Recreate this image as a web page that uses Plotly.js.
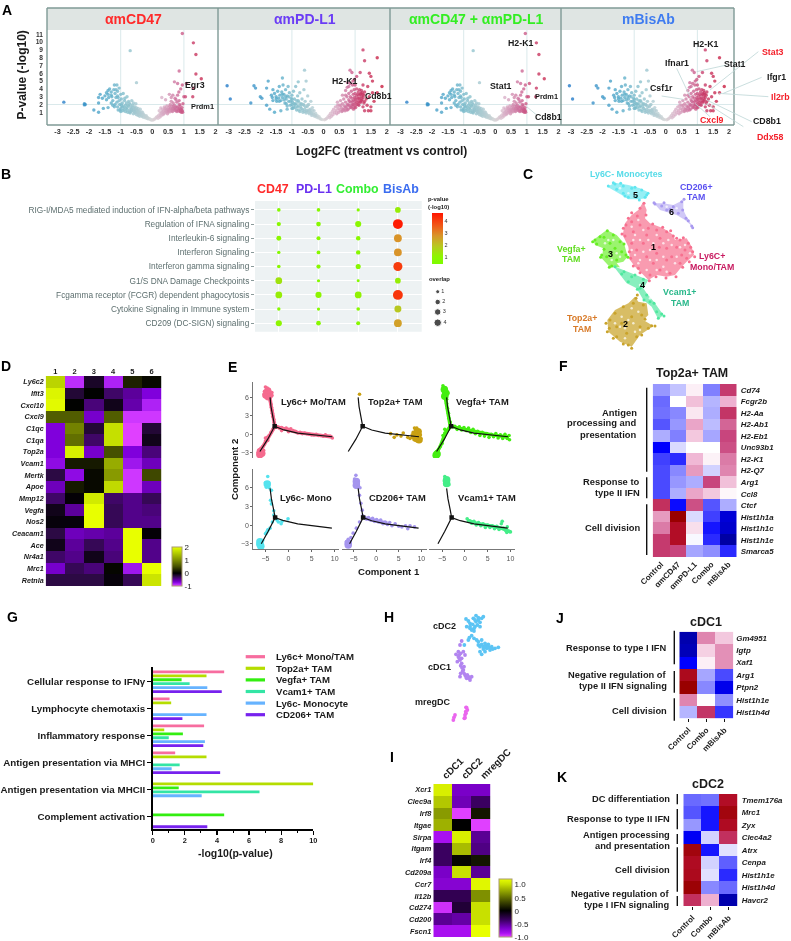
<!DOCTYPE html>
<html><head><meta charset="utf-8">
<script src="https://cdn.plot.ly/plotly-3.0.1.min.js"></script>
<style>html,body{margin:0;padding:0;background:#fff}#g{width:791px;height:941px;filter:blur(0.3px)}</style>
</head><body><div id="g"></div>
<script>
// ---------- DATA ----------
const volcanoA = [[-2.8,2.3],[-2.15,2.1],[-2.15,1.95],[-2.12,2.0],[-1.7,2.2],[-1.85,1.3],[-1.7,1.0],[-1.55,1.5],[-1.4,1.6],[-1.2,1.7],[-0.7,8.9],[-0.5,4.8],
[-1.7,2.9],[-1.65,3.3],[-1.58,2.8],[-1.5,3.1],[-1.45,3.5],[-1.4,3.3],[-1.38,2.9],[-1.35,4.0],[-1.3,3.6],[-1.28,3.0],[-1.25,2.5],[-1.2,4.5],[-1.12,4.5],[-1.22,3.9],[-1.18,3.4],[-1.15,2.9],[-1.12,2.3],[-1.1,3.7],[-1.08,2.9],[-1.05,4.1],[-1.05,2.5],[-1.03,2.0],[-1,3.3],[-1,1.5],[-1,1.1],[-0.98,2.7],[-0.95,2.2],[-0.95,1.7],[-0.92,3.4],[-0.9,1.4],[-0.88,2.5],[-0.85,1.9],[-0.85,1.1],[-0.82,2.2],[-0.8,3.0],[-0.8,1.6],[-0.78,1.0],[-0.75,2.4],[-0.75,1.8],[-0.72,1.3],[-0.7,2.0],[-0.7,0.9],[-0.68,1.6],[-0.65,2.5],[-0.65,1.2],[-0.62,1.9],[-0.6,1.4],[-0.6,0.8],[-0.58,1.1],[-0.55,1.7],[-0.55,0.9],[-0.52,2.1],[-0.5,1.3],[-0.5,0.7],[-0.48,1.0],[-0.45,1.5],[-0.45,0.6],[-0.42,1.2],[-0.4,0.9],[-0.4,0.5],[-0.38,1.4],[-0.35,0.7],[-0.35,1.05],[-0.32,0.45],[-0.3,0.8],[-0.28,0.35],[-0.25,0.6],[-0.22,0.3],[-0.2,0.45],[-0.17,0.22],[-0.15,0.35],[-0.12,0.15],[-0.1,0.22],[-0.07,0.1],[-0.04,0.05],[-0.02,0.02],[0.02,0.02],[0.05,0.07],
[-1.3,2.2],[-1.25,1.9],[-1.18,2.0],[-1.1,1.7],[-1.08,1.3],[-1.02,1.3],[-0.97,1.9],[-0.93,1.2],[-0.9,1.7],[-0.87,2.8],[-0.83,1.5],[-0.8,1.3],[-0.77,1.9],[-0.73,2.2],[-0.72,1.0],[-0.68,1.1],[-0.66,1.4],[-0.64,1.7],[-0.6,2.2],[-0.58,1.55],[-0.57,1.2],[-0.54,1.4],[-0.53,1.0],[-0.5,1.55],[-0.47,1.2],[-0.46,0.85],[-0.43,1.0],[-0.41,0.7],[-0.37,0.85],[-0.33,0.6],[-0.31,1.0],[-0.27,0.7],[-0.24,0.45],[-0.19,0.55],[-0.15,0.2],[-1.45,2.6],[-1.3,3.2],[-1.15,3.9],[-1.4,3.8],[-1.1,3.1],
[0.08,0.15],[0.12,0.3],[0.15,0.45],[0.18,0.22],[0.2,0.6],[0.22,1.2],[0.24,0.4],[0.25,0.85],[0.27,1.55],[0.28,0.55],[0.3,1.0],[0.3,2.9],[0.32,1.4],[0.34,0.7],[0.36,1.2],[0.38,1.7],[0.4,0.95],[0.42,1.45],[0.42,2.6],[0.45,1.1],[0.46,1.8],[0.48,0.8],[0.5,1.3],[0.52,1.6],[0.54,3.3],[0.55,1.05],[0.57,2.0],[0.6,1.4],[0.6,2.9],[0.62,1.75],[0.64,1.1],[0.66,2.2],[0.68,1.5],[0.7,1.9],[0.7,4.9],[0.72,2.8],[0.74,1.2],[0.76,1.7],[0.78,2.3],[0.8,4.7],[0.82,1.4],[0.84,3.6],[0.85,6.3],[0.86,2.0],[0.88,1.1],[0.9,1.4],[0.9,4.0],[0.92,1.0],[0.94,1.6],[0.95,4.5],[0.95,11.1],[0.97,2.1],[1,3.0],[1.05,3.0],[1.08,4.7],[1.28,3.0],[1.3,4.1],[1.3,9.9],[1.38,8.4],[1.38,5.9],[1.55,5.3],
[0.3,0.8],[0.33,1.1],[0.37,0.85],[0.4,1.5],[0.43,1.2],[0.47,1.4],[0.5,1.05],[0.53,1.3],[0.55,1.8],[0.58,1.5],[0.62,1.2],[0.65,1.5],[0.67,1.8],[0.7,1.3],[0.72,1.6],[0.75,1.4],[0.78,1.1],[0.8,1.7],[0.83,1.2],[0.86,1.5],[0.88,1.8],[0.9,1.15],[0.92,1.3],[0.6,2.4],[0.75,2.6],[0.85,2.5],[0.95,1.2],[0.96,1.0],[0.65,3.2],[0.8,3.2]];
const volcanoB = [[-3.05,4.4],[-2.95,2.7],[-2.3,2.2],[-2.2,4.4],[-2.15,4.1],[-2.0,3.0],[-1.95,2.8],[-1.8,4.1],[-1.75,5.0],[-1.8,1.9],[-1.7,1.4],[-1.65,3.2],[-1.6,3.9],[-1.55,1.0],[-1.6,2.5],[-1.35,1.2],[-1.15,1.4],[-0.6,6.4],[-0.55,5.0],[-0.8,4.9],
[-1.62,2.9],[-1.55,3.4],[-1.5,3.0],[-1.48,2.4],[-1.45,3.7],[-1.42,2.8],[-1.4,4.3],[-1.38,3.2],[-1.35,2.5],[-1.32,3.6],[-1.3,5.4],[-1.3,2.9],[-1.28,4.5],[-1.25,3.3],[-1.22,2.2],[-1.2,3.9],[-1.18,2.7],[-1.15,3.1],[-1.12,4.3],[-1.1,2.4],[-1.08,3.5],[-1.05,1.9],[-1.02,2.8],[-1,3.2],[-1,1.5],[-0.98,2.3],[-0.95,3.7],[-0.95,1.7],[-0.92,2.7],[-0.9,2.0],[-0.88,4.3],[-0.85,2.5],[-0.85,1.3],[-0.82,3.1],[-0.8,1.8],[-0.78,2.3],[-0.75,1.1],[-0.75,3.5],[-0.72,2.0],[-0.7,1.5],[-0.68,2.7],[-0.65,1.0],[-0.62,1.9],[-0.62,3.9],[-0.6,1.4],[-0.58,2.4],[-0.55,0.9],[-0.52,1.7],[-0.5,3.1],[-0.5,1.2],[-0.47,2.0],[-0.45,0.8],[-0.42,1.4],[-0.4,2.4],[-0.4,1.0],[-0.37,0.6],[-0.35,1.6],[-0.33,0.85],[-0.3,1.2],[-0.28,0.5],[-0.25,0.85],[-0.22,0.4],[-0.2,0.6],[-0.17,0.3],[-0.14,0.42],[-0.11,0.2],[-0.08,0.12],[-0.04,0.06],[0.03,0.04],[0.07,0.12],
[-1.4,2.4],[-1.25,2.6],[-1.18,2.1],[-1.15,1.8],[-1.05,2.4],[-1.0,2.0],[-0.97,1.5],[-0.93,2.1],[-0.9,1.6],[-0.87,2.1],[-0.83,1.7],[-0.8,2.5],[-0.78,1.3],[-0.73,1.7],[-0.7,2.1],[-0.67,1.3],[-0.64,2.0],[-0.6,1.1],[-0.57,1.7],[-0.54,1.2],[-0.5,1.9],[-0.48,1.0],[-0.45,1.3],[-0.43,1.1],[-0.38,0.8],[-0.35,1.25],[-0.3,0.7],[-0.26,0.6],[-1.5,2.7],[-1.3,3.3],[-1.2,3.0],[-1.1,3.0],[-1.0,2.6],
[0.1,0.22],[0.14,0.4],[0.18,0.6],[0.2,0.3],[0.22,0.85],[0.25,0.5],[0.28,1.1],[0.3,0.7],[0.32,1.4],[0.35,0.95],[0.38,1.7],[0.4,1.2],[0.42,0.8],[0.44,2.3],[0.46,1.5],[0.48,1.0],[0.5,1.9],[0.52,1.3],[0.54,2.5],[0.56,1.6],[0.58,1.1],[0.6,2.1],[0.6,3.2],[0.62,1.4],[0.64,2.7],[0.66,1.8],[0.68,1.2],[0.7,2.3],[0.7,3.8],[0.72,1.6],[0.74,3.0],[0.76,2.0],[0.76,4.8],[0.78,1.4],[0.8,2.6],[0.8,3.4],[0.8,4.3],[0.82,1.9],[0.84,6.4],[0.85,3.0],[0.86,2.3],[0.88,1.6],[0.88,3.7],[0.9,2.8],[0.9,6.1],[0.92,2.0],[0.92,4.5],[0.94,3.3],[0.95,2.5],[0.95,1.4],[0.97,3.9],[0.98,2.9],[0.98,5.2],[1,2.2],[1,3.4],[1,1.8],[1.02,2.6],[1.04,3.1],[1.05,4.0],[1.05,5.6],[1.06,2.0],[1.08,2.8],[1.1,3.6],[1.1,2.4],[1.12,3.2],[1.12,1.9],[1.14,3.9],[1.15,2.7],[1.16,6.1],[1.18,3.4],[1.18,2.3],[1.2,3.0],[1.2,3.8],[1.22,2.6],[1.24,3.3],[1.25,9.0],[1.25,1.7],[1.28,2.2],[1.3,3.6],[1.3,7.6],[1.3,1.2],[1.35,2.7],[1.38,1.9],[1.4,4.3],[1.42,1.2],[1.45,3.0],[1.45,6.0],[1.5,1.7],[1.5,5.6],[1.5,1.2],[1.55,3.5],[1.55,5.0],[1.6,2.4],[1.7,8.0],[1.7,3.5],[1.85,4.3],
[0.65,1.4],[0.7,1.7],[0.75,1.3],[0.78,1.9],[0.82,2.4],[0.85,1.6],[0.9,1.8],[0.92,2.4],[0.95,2.0],[0.97,1.6],[1,2.7],[1.02,1.6],[1.05,2.3],[1.08,3.3],[1.1,2.0],[1.12,2.8],[1.15,2.3],[1.17,3.3],[1.2,2.5],[1.22,3.5],[1.25,2.9],[1.28,3.2],[1.3,2.4],[0.85,4.7],[0.93,5.0],[0.75,4.2],[0.7,3.2],[1.0,4.5],[1.25,4.5],[0.55,1.9],[0.6,1.2],[0.45,1.9]];
const volcanoPanels = ['αmCD47','αmPD-L1','αmCD47 + αmPD-L1','mBisAb'];
const volcanoTicksX = [-3,-2.5,-2,-1.5,-1,-0.5,0,0.5,1,1.5,2];
const volcanoTicksY = [1,2,3,4,5,6,7,8,9,10,11];

const pathways = ['RIG-I/MDA5 mediated induction of IFN-alpha/beta pathways','Regulation of IFNA signaling','Interleukin-6 signaling','Interferon Signaling','Interferon gamma signaling','G1/S DNA Damage Checkpoints','Fcgamma receptor (FCGR) dependent phagocytosis','Cytokine Signaling in Immune system','CD209 (DC-SIGN) signaling'];
const bubbleGroups = ['CD47','PD-L1','Combo','BisAb'];
const bubbleOverlap = [[1,1,0.8,2],[1.3,1.5,2.2,4],[1.6,1.2,1.4,3],[0.9,1.1,1.4,3],[1,1.3,1.7,3.6],[2.5,0.8,0.7,2],[2.5,2.2,2.5,4],[0.9,0.8,1,2.6],[2.2,1.5,1.2,3]];
const bubblePval = [[0.7,0.7,0.7,1.2],[0.8,0.8,0.9,4.6],[0.9,0.8,0.8,2.8],[0.7,0.8,0.8,2.8],[0.8,0.8,0.8,4.1],[1.4,0.7,0.7,1.2],[1.2,1.0,1.1,4.2],[0.7,0.7,0.8,1.9],[1.0,0.8,0.8,2.6]];

// Panel C: embedding outlines and scattered cells, read in embedding units
const umapNames = ['Ly6C+ Mono/TAM','Top2a+ TAM','Vegfa+ TAM','Vcam1+ TAM','Ly6C- Monocytes','CD206+ TAM'];
const umapOutline = [
 [[430,125],[440,150],[435,175],[450,190],[490,205],[520,225],[525,240],[560,235],[575,260],[582,285],[560,305],[545,320],[525,345],[500,350],[470,345],[445,360],[425,340],[405,320],[390,300],[385,260],[368,225],[375,190],[395,165],[415,150]],
 [[405,410],[415,425],[440,430],[445,465],[430,480],[460,498],[420,525],[395,560],[360,545],[325,515],[322,480],[345,450],[385,430]],
 [[280,240],[320,210],[350,225],[372,250],[383,290],[370,305],[350,310],[360,322],[330,322],[305,295],[310,265],[285,255]],
 [[340,318],[370,330],[400,340],[445,360],[430,385],[440,400],[465,430],[490,465],[475,478],[455,440],[430,420],[410,385],[380,370],[362,345]],
 [[322,80],[345,68],[385,75],[420,85],[442,95],[440,115],[415,118],[385,118],[365,105],[340,90]],
 [[462,130],[490,130],[520,135],[550,120],[550,150],[560,170],[578,200],[555,180],[530,165],[500,155],[480,150]]];
const umapCells = [
 [[432,130],[395,158],[412,168],[378,195],[395,185],[420,195],[445,205],[470,210],[500,215],[520,228],[375,228],[400,215],[440,225],[480,235],[540,240],[565,250],[578,275],[560,295],[530,262],[500,265],[470,280],[440,290],[410,270],[395,250],[392,295],[415,325],[450,345],[480,330],[510,340],[540,310],[500,300],[460,310],[430,250],[555,270],[545,285],[515,290],[478,262],[370,205],[385,175],[420,145],[438,165],[458,192],[488,202],[512,212],[530,235],[550,233],[572,262],[584,290],[568,305],[548,322],[528,350],[498,354],[468,350],[448,362],[420,338],[400,318],[388,275],[366,222]],
 [[408,415],[400,430],[430,435],[370,440],[345,460],[330,480],[328,505],[350,530],[385,555],[410,530],[445,505],[455,497],[420,500],[395,470],[365,490],[380,520],[425,465],[350,500],[318,490],[322,515],[340,535],[370,552],[395,565],[425,525],[465,498],[435,478],[412,405]],
 [[285,240],[300,230],[322,212],[340,225],[360,245],[378,285],[350,300],[320,290],[305,285],[330,250],[312,232],[345,265],[365,275],[335,318],[278,245],[290,252],[312,268],[302,292],[328,322],[384,292],[372,252]],
 [[345,320],[372,335],[395,350],[430,358],[420,385],[440,405],[462,430],[485,462],[475,475],[450,425],[385,365],[365,342],[405,345],[412,388],[432,420],[492,468],[470,455]],
 [[325,78],[345,72],[370,78],[395,85],[425,90],[440,105],[435,112],[410,112],[385,112],[370,100],[350,88],[340,68],[362,70],[405,82],[444,100],[418,120],[375,108]],
 [[465,132],[485,138],[500,150],[520,140],[545,125],[548,150],[558,175],[575,198],[535,160],[510,148],[462,128],[492,128],[552,118],[578,203],[565,182]]];
const umapSpecks = [[395,200],[430,210],[470,225],[505,240],[450,270],[420,300],[470,300],[530,290],[400,240],[555,255],[440,330],[360,500],[400,490],[420,510],[385,480],[365,470],[325,240],[350,280],[385,100],[490,320],[415,180],[405,225],[420,240],[445,240],[460,250],[490,250],[515,255],[540,262],[570,280],[525,310],[490,290],[450,300],[430,275],[405,285],[395,270],[470,330],[500,335],[415,310],[345,490],[375,505],[405,515],[375,535],[395,445],[415,455],[340,240],[315,250],[335,300],[360,290],[420,375],[450,415],[530,145],[500,140],[405,100],[360,85]];

const heatDRows = ['Ly6c2','Ifit3','Cxcl10','Cxcl9','C1qc','C1qa','Top2a','Vcam1','Mertk','Apoe','Mmp12','Vegfa','Nos2','Ceacam1','Ace','Nr4a1','Mrc1','Retnla'];
const heatDCols = ['1','2','3','4','5','6'];
const heatD = [[1.6,-0.9,-0.15,-0.85,0.2,0.05],[1.9,-0.2,0,-0.35,-0.5,-0.7],[1.95,0,-0.4,-0.1,-0.55,-0.85],[0.6,0.6,-0.65,0.6,-0.95,-0.95],[-0.7,0.9,-0.2,1.7,-1,-0.2],[-0.7,0.75,-0.35,1.7,-1,-0.1],[-0.7,1.85,-0.65,0.5,-0.7,-0.4],[-0.75,0.15,0.15,1.25,-0.8,-0.6],[-0.25,-0.75,0.05,1.1,-0.95,0.45],[-0.6,0.15,0.05,1.65,-0.95,-0.6],[-0.35,-0.03,1.8,-0.35,-0.45,-0.3],[-0.1,-0.5,2,-0.3,-0.45,-0.4],[-0.05,-0.05,2,-0.3,-0.45,-0.45],[-0.25,-0.6,-0.55,-0.5,2,-0.03],[-0.1,-0.5,-0.3,-0.45,2,-0.45],[-0.35,-0.45,-0.1,-0.4,2,-0.45],[-0.65,-0.3,-0.4,0.03,-0.8,2],[-0.25,-0.25,-0.25,-0.05,-0.3,1.75]];

const trajNames = ['Ly6c+ Mo/TAM','Top2a+ TAM','Vegfa+ TAM','Ly6c- Mono','CD206+ TAM','Vcam1+ TAM'];
const trajTreeTop = [[-4,6],[-3.8,4.5],[-3.3,2.5],[-3,1.3],[-4.5,-0.8],[-6.2,-2.8],null,[-3,1.3],[-1,0.7],[2,0.2],[5,0],[9.5,-0.4]];
const trajTreeBottom = [[-4,5.9],[-3.7,4.2],[-3.2,2.4],[-2.9,1.2],[-4.4,-1],[-5.9,-3],null,[-2.9,1.2],[-1,0.7],[2,0.2],[5,-0.1],[9.4,-0.5]];
const trajCells = [
 [[-5,7.7],[-4.6,7.5],[-4.2,7.3],[-5.2,7],[-4.8,6.9],[-4.4,6.8],[-4,6.9],[-3.6,6.8],[-5.2,6.5],[-4.8,6.4],[-4.4,6.3],[-4,6.4],[-3.6,6.3],[-5,6.1],[-4.5,6],[-4,5.9],[-3.9,5.4],[-3.8,4.9],[-3.7,4.4],[-3.6,3.9],[-3.5,3.4],[-3.4,2.9],[-3.2,2.4],[-3.1,1.9],[-3,1.5],[-3.4,0.8],[-3.8,0.3],[-4.2,-0.2],[-4.6,-0.5],[-5,-1.1],[-5.2,-1.6],[-5.6,-2],[-6,-2.3],[-6.4,-2.6],[-6,-2.8],[-6.6,-3],[-6.2,-3.1],[-5.8,-3.2],[-6.5,-3.4],[-6,-3.5],[-5.4,-2.6],[-2.5,1.2],[-2,1],[-1.5,1.1],[-1,0.9],[-0.5,1],[0,0.8],[0.5,0.9],[0,0.4],[1,0.6],[1.5,0.5],[2,0.2],[2.5,0.3],[3,0.1],[3.5,0.2],[4,0.1],[4.5,0],[5,-0.1],[5.5,-0.1],[6,0],[6.5,-0.2],[7,-0.2],[7.5,-0.3],[8,-0.1],[8.5,-0.3],[9,-0.3],[9.5,-0.6],[-1.5,0.6],[-4.5,-1],[-5,-0.6]],
 [[-3.7,6.5],[3.2,0.1],[4,-0.5],[4.6,-0.1],[5.5,-0.3],[6,0.2],[7,-0.5],[7.5,-0.7],[8,-0.5],[8.2,0.3],[8.4,-0.9],[8.6,-0.3],[8.7,0.7],[8.8,-1],[9,0.1],[9,-0.5],[9.1,-1.1],[9.2,0.6],[9.3,-0.2],[9.4,-0.8],[9.5,0.2],[9.6,-0.5],[9.7,-1.1],[9.8,-0.1],[9.9,-0.7],[8.5,1],[9,1],[8,-0.1],[9.6,0.5]],
 [[-4.8,7.9],[-4.3,7.5],[-4.6,7],[-4.1,7],[-4.6,6.5],[-4.1,6.4],[-3.7,6.7],[-4.4,6],[-4,5.7],[-4,5],[-3.8,4.2],[-3.6,3.4],[-3.5,2.6],[-3.2,2],[-3.2,1.3],[-3.6,0.8],[-4,0.5],[-4.4,0.2],[-4.8,-0.2],[-4.4,0.8],[-5,-1.5],[-5.4,-2],[-5.8,-2.5],[-6.2,-2.8],[-6.4,-3.2],[-5.9,-3.3],[-6.3,-3.5],[-2.2,1.3],[-1.7,0.8],[-1.2,1.2],[-0.7,0.7],[-0.2,1.1],[0.3,0.6],[0.8,1],[1.3,0.3],[1.8,0.8],[2.3,0.1],[2.8,0.5],[3.3,-0.2],[3.8,0.3],[4.3,-0.3],[4.8,0.1],[5.3,-0.5],[5.8,0],[6.3,-0.4],[6.8,0.1],[7.3,-0.6],[7.8,-0.1],[8.3,-0.7],[8.8,0],[9.3,-0.7],[9.7,-0.2],[9.8,-0.9]],
 [[-4.5,7.8],[-5,6.8],[-4.4,6.8],[-4.8,6.1],[-4.2,6],[-3.7,5.6],[-3.9,4],[-3.7,3.4],[-3.2,2.3],[-3.2,1.6],[-2.9,1.2],[-2.5,0.8],[-2.2,0.5],[-1.6,0.2],[-1.4,0.6],[-0.1,1],[-3.5,0.5],[-4,-0.5],[-4.5,-0.8],[-5,-1.4],[-5.6,-2.5],[-6.2,-2.8],[-6.5,-3],[-6,-3.2],[-6.3,-3.4],[-5.8,-3.5]],
 [[-4.5,8],[-4.8,7.4],[-4.2,7.2],[-4.7,6.7],[-4,6.7],[-4.4,6.1],[-3.6,6],[-3.7,4.8],[-3.4,3.5],[-3.1,2.4],[-3,1.5],[-2.5,1.2],[-2.2,1],[-1.7,1.2],[-1.2,0.8],[-0.8,1.1],[-0.4,0.6],[0.1,0.9],[0.5,0.5],[1,0.8],[1.5,0.2],[2,0.5],[2.5,0.1],[3,0.4],[3.5,-0.1],[4.2,0.2],[5,-0.2],[5.7,-0.3],[6.5,-0.1],[7,-0.6],[7.5,-0.1],[8.5,-0.3],[-3.7,0.5],[-4.4,-0.5],[-5.1,-1.3],[-5.6,-2],[-6.2,-2.3],[-6.6,-2.7],[-6,-2.9],[-6.5,-3.1],[-6.1,-3.3]],
 [[-4.4,7.8],[-4,7.5],[-4.5,7.1],[-4,7],[-3.6,7.1],[-4.3,6.5],[-3.9,6.4],[-3.5,6.5],[0.5,1],[1,0.7],[1.5,0.3],[2,0.6],[2.5,0],[3,0.4],[3.5,-0.1],[4,0.2],[4.5,-0.4],[5,0],[5.5,-0.4],[6,-0.1],[6.5,-0.6],[7,-0.2],[7.5,-0.7],[8,0.2],[8.2,0.6],[8.5,-0.5],[9,-0.9],[9.3,-0.3],[9.6,-1],[10,-1.1],[9.2,-1.2]]];
const trajTracks = [
 [[-4.1,6],[-3.8,4.8],[-3.5,3.4],[-3,1.5],null,[-3,1.2],[-4.3,-0.4],[-5.3,-1.8],[-6,-2.6],null,[-3,1.3],[-1.5,1],[0,0.7],[2,0.3],[5,0],[9.5,-0.45]],
 [[8.3,0],[9.8,-0.6]],
 [[-4.3,6],[-3.9,4.5],[-3.4,2.5],[-3.2,1.3],[-4.4,0],[-5.4,-2],[-6.2,-3],null,[-2.6,1.2],[0,0.8],[3,0.3],[6,-0.1],[9.7,-0.5]],
 [[-5,-1.5],[-4.3,-0.6]],
 [[-2.5,1.1],[0,0.7],[2.5,0.3]],
 [[0.5,0.8],[3,0.2],[6,-0.2],[8,-0.5],[10,-1.1]]];
const trajBlobs = [
 [[-4.5,7],[-4.9,6.4],[-4.1,6.4],[-4.4,6.1],[-6.1,-2.8],[-6.2,-3.3],[-5.8,-3.1]],
 [[9,0.1],[9.2,-0.6],[9.5,-0.9],[8.9,-0.6],[9.3,0.4]],
 [[-4.5,7.3],[-4.2,6.7],[-4.4,6.2],[-6.1,-3.2],[-6.3,-3.4]],
 [[-4.6,6.6],[-6.2,-3.1],[-6.2,-2.7],[-6,-3.4]],
 [[-4.4,7],[-4.4,6.4],[-6.2,-2.9],[-6.2,-3.2]],
 [[-4,7.3],[-4,6.7]]];

const heatFRows = ['Cd74','Fcgr2b','H2-Aa','H2-Ab1','H2-Eb1','Unc93b1','H2-K1','H2-Q7','Arg1','Ccl8','Ctcf','Hist1h1a','Hist1h1c','Hist1h1e','Smarca5'];
const heatFCols = ['Control','αmCD47','αmPD-L1','Combo','mBisAb'];
const heatF = [[-0.7,-0.4,0.1,-0.85,1.1],[-1,0,0.4,-0.5,0.5],[-0.95,-0.8,0.15,-0.55,1.15],[-1.1,-0.7,0.55,-0.45,0.85],[-0.55,-0.85,0.35,-0.6,1],[-1.5,-0.25,0,0,0.95],[-1.2,-1.3,0.45,0.08,0.75],[-1.15,-0.8,0.6,-0.3,0.7],[-1.15,-0.7,-0.55,1,0.4],[-1.15,-0.55,0.55,0.35,0.05],[1.2,-1.45,0.95,-1.1,-0.55],[0.6,2,-0.25,-1.2,-1.7],[0.75,1.6,0.2,-1.4,-1.75],[1.1,1.6,-0.05,-1.3,-1.95],[1.1,1,-0.6,-0.75,-1.3]];

const barCategories = ['Cellular response to IFNγ','Lymphocyte chemotaxis','Inflammatory response','Antigen presentation via MHCI','Antigen presentation via MHCII','Complement activation'];
const barNames = ['Ly6c+ Mono/TAM','Top2a+ TAM','Vegfa+ TAM','Vcam1+ TAM','Ly6c- Monocyte','CD206+ TAM'];
const barLy6cPos = [4.45,1.05,3.2,1.4,null,null];
const barTop2a = [3.35,1.15,0.72,3.35,10,null];
const barVegfa = [1.8,null,1.88,null,1.62,4.45];
const barVcam1 = [2.3,null,1.0,1.68,6.65,null];
const barLy6cNeg = [3.4,3.35,3.25,1.18,3.05,null];
const barCd206 = [4.3,1.85,3.15,4.2,null,3.4];

const dcCells2 = [[288,72],[295,78],[300,85],[310,70],[318,62],[325,68],[335,70],[340,65],[330,82],[322,90],[315,95],[300,95],[290,95],[305,105],[312,108],[330,95],[298,128],[305,122],[312,130],[320,135],[335,135],[325,150],[335,148],[345,145],[355,148],[365,155],[385,157],[350,160],[340,155],[330,170],[345,170],[360,165],[375,160],[335,178],[295,135],[283,150],[318,80],[308,88],[350,152],[340,162],[355,155],[325,140],[315,75],[325,75],[300,100],[312,100],[345,155],[358,158],[368,162],[330,155]];
const dcCells1 = [[275,138],[270,150],[265,170],[258,178],[265,185],[280,170],[270,195],[262,200],[275,205],[282,215],[280,225],[272,235],[285,240],[295,245],[300,255],[290,250],[270,245],[305,245],[285,180],[272,175],[268,180],[275,190],[278,228],[288,245],[298,250],[268,190],[272,212],[276,218],[282,235],[292,240],[300,248]];
const dcCellsM = [[288,337],[292,345],[285,360],[283,370],[278,385],[265,393],[250,398],[240,400],[245,390],[250,375],[255,360],[262,385],[270,395],[287,350],[290,338],[242,398],[258,396],[280,378],[285,368],[288,355],[272,390],[248,382],[252,367]];

const heatIRows = ['Xcr1','Clec9a','Irf8','Itgae','Sirpa','Itgam','Irf4','Cd209a','Ccr7','Il12b','Cd274','Cd200','Fscn1'];
const heatICols = ['cDC1','cDC2','mregDC'];
const heatI = [[1.1,-0.65,-0.65],[0.9,-0.6,-0.35],[0.7,-1,0.1],[0.8,0,-1],[-0.85,1.1,-0.5],[-0.35,0.85,-0.45],[-0.35,0.03,0.1],[-0.65,1,-0.5],[-0.7,-0.7,1.15],[-0.3,-0.3,0.65],[-0.95,-0.2,1],[-0.5,-0.55,1],[-0.85,-0.85,1.2]];

const heatJRows = ['Gm4951','Igtp','Xaf1','Arg1','Ptpn2','Hist1h1e','Hist1h4d'];
const heatJCols = ['Control','Combo','mBisAb'];
const heatJ = [[-1.9,0.7,0.35],[-1.85,0.3,0.65],[-1.5,0.1,0.65],[1.7,-0.6,-1.15],[2,-0.8,-1.6],[0.7,0.02,-0.75],[-0.5,1.15,-1.25]];
const heatKRows = ['Tmem176a','Mrc1','Zyx','Clec4a2','Atrx','Cenpa','Hist1h1e','Hist1h4d','Havcr2'];
const heatK = [[-1,-0.95,1.6],[-1.1,-1.4,1.85],[-0.7,-1.4,1.65],[-1.55,-0.3,1.2],[1.85,-1.4,-0.2],[1.65,-0.3,-1.05],[1.7,-0.2,-1.3],[1.95,-0.8,-1],[1.2,0.5,-1.9]];

// ---------- HELPERS ----------
const W=791,H=941,F='Liberation Sans, Arial, sans-serif';
const data=[],shapes=[],annotations=[],layout={};
const px=x=>x/W, py=y=>1-y/H;
function note(x,y,text,o={}){annotations.push({xref:'paper',yref:'paper',x:px(x),y:py(y),text:(o.plain?text:'<b>'+text+'</b>'),showarrow:false,borderpad:0,xanchor:o.anchor||'center',yanchor:'middle',textangle:o.angle||0,font:{family:F,size:o.size||8.5,color:o.color||'#1a1a1a'}});}
function seg(x0,y0,x1,y1,color,width){shapes.push({type:'line',xref:'paper',yref:'paper',x0:px(x0),x1:px(x1),y0:py(y0),y1:py(y1),line:{color,width}});}
function box(x0,y0,x1,y1,fill,layer){shapes.push({type:'rect',xref:'paper',yref:'paper',x0:px(x0),x1:px(x1),y0:py(y0),y1:py(y1),fillcolor:fill,line:{width:0},layer:layer||'below'});}
function axes(id,x0,x1,y0,y1,xo,yo){
  layout['xaxis'+id]=Object.assign({domain:[px(x0),px(x1)],anchor:'y'+id,fixedrange:true,showgrid:false,zeroline:false,showline:false,automargin:false},xo);
  layout['yaxis'+id]=Object.assign({domain:[py(y1),py(y0)],anchor:'x'+id,fixedrange:true,showgrid:false,zeroline:false,showline:false,automargin:false},yo);
}
const hidden={visible:false};
const boldTick=(size,color)=>({family:F,size,color:color||'#1a1a1a',weight:700});
const italTick=(size)=>({family:F,size,color:'#1a1a1a',weight:700,style:'italic'});
const xs=a=>a.map(p=>p?p[0]:null), ys=a=>a.map(p=>p?p[1]:null);

// ---------- A ----------
const volcanoScale=[[0,'#1f78c8'],[0.3,'#4fa8c8'],[0.44,'#88c0cc'],[0.56,'#c0d0d4'],[0.6,'#d8d8d8'],[0.66,'#d8b0c8'],[0.76,'#cc6a98'],[0.84,'#c83a68'],[1,'#c81030']];
const aFrames=[[47,218,152.3],[218,390,323.5],[390,561,495.3],[561,734,665.8]];
const aColors=['#ff2a2a','#6a3cf5','#33ee22','#3f7cf0'];
const aTitleX=[133,305,476,648];
box(47,8,734,30,'#dfe5e3');
aFrames.forEach((f,i)=>{
  const id=i+1, k=31.6, d=(i%2==0)?volcanoA:volcanoB;
  axes(id,f[0],f[1],30,125,
    {range:[(f[0]-f[2])/k,(f[1]-f[2])/k],tickvals:volcanoTicksX,ticktext:volcanoTicksX.map(String),ticks:'',tickfont:boldTick(7.3,'#333'),ticklabelstandoff:1},
    {range:[-0.63,11.55],tickvals:volcanoTicksY,ticks:'',showticklabels:i==0,ticklabelstandoff:3,tickfont:boldTick(6.6,'#333')});
  data.push({type:'scatter',mode:'markers',xaxis:'x'+id,yaxis:'y'+id,x:xs(d),y:ys(d),hoverinfo:'skip',
    marker:{size:3.4,opacity:0.78,color:xs(d),cmin:-3,cmax:2,colorscale:volcanoScale,showscale:false,line:{width:0}}});
  [-1,1].forEach(v=>shapes.push({type:'line',xref:'x'+id,yref:'paper',x0:v,x1:v,y0:py(30),y1:py(125),layer:'below',line:{color:'#d6e6e9',width:0.9}}));
  shapes.push({type:'line',xref:'paper',yref:'y'+id,x0:px(f[0]),x1:px(f[1]),y0:2,y1:2,layer:'below',line:{color:'#d6e6e9',width:0.9}});
  note(aTitleX[i],19,volcanoPanels[i],{size:14,color:aColors[i]});
});
[[47,8,47,125],[218,8,218,125],[390,8,390,125],[561,8,561,125],[734,8,734,125],[47,8,734,8],[47,125,734,125]].forEach(s=>seg(s[0],s[1],s[2],s[3],'#7f9a96',1.4));
note(21.5,75,'P-value (-log10)',{size:12,angle:-90});
note(381.5,151,'Log2FC (treatment vs control)',{size:12});
note(7,10,'A',{size:14,color:'#000'});
const z2=(x,y)=>[390+x/3,y/3];
[[960,270,1105,155],[1000,280,1115,232],[985,280,1135,290],[950,300,1085,365],[950,310,1060,380],[915,310,960,350],[815,288,880,298],[860,205,900,290],[1010,195,920,215],[410,320,440,345]].forEach(l=>{const a=z2(l[0],l[1]),b=z2(l[2],l[3]);seg(a[0],a[1],b[0],b[1],'#bcd6d6',0.8);});
[['Egr3',195,84.7,8.8],['Prdm1',202.7,106.3,7.4],['H2-K1',345,81.3,8.8],['Cd8b1',378.3,95.7,8.7]].forEach(t=>note(t[1],t[2],t[0],{size:t[3]}));
[['H2-K1',393,128,8.8],['Stat1',332,258,8.8],['Prdm1',468,290,7.4],['Cd8b1',476,352,8.7],['H2-K1',948,133,8.8],['Stat1',1036,192,8.8],['Ifnar1',860,190,8.8],['Csf1r',815,263,8.8],['Ifgr1',1160,230,8.8],['CD8b1',1132,362,8.8]].forEach(t=>{const a=z2(t[1],t[2]);note(a[0],a[1],t[0],{size:t[3]});});
[['Stat3',1150,155],['Il2rb',1172,290],['Cxcl9',965,360],['Ddx58',1140,412]].forEach(t=>{const a=z2(t[1],t[2]);note(a[0],a[1],t[0],{size:8.8,color:'#f4202a'});});

// ---------- B ----------
box(255,201,421.7,331.7,'#edf2f3');
axes(5,255,421.7,201,331.7,
  {type:'category',range:[-0.6,3.6],showgrid:true,gridcolor:'#fff',gridwidth:1,showticklabels:false,ticks:''},
  {type:'category',range:[8.6,-0.63],showgrid:true,gridcolor:'#fff',gridwidth:1,ticks:'outside',ticklen:3,tickcolor:'#8a9a9a',tickfont:{family:F,size:8.3,color:'#5d6f6f'}});
const bx=[],by=[],bs=[],bc=[];
pathways.forEach((p,r)=>bubbleGroups.forEach((g,c)=>{bx.push(g);by.push(p);bs.push(1.5+2.1*bubbleOverlap[r][c]);bc.push(bubblePval[r][c]);}));
data.push({type:'scatter',mode:'markers',xaxis:'x5',yaxis:'y5',x:bx,y:by,hoverinfo:'skip',marker:{size:bs,color:bc,cmin:0.4,cmax:4.7,opacity:1,line:{width:0},
  colorscale:[[0,'#7dfc00'],[0.15,'#8ef500'],[0.35,'#b8c820'],[0.55,'#d8962a'],[0.75,'#f05a18'],[1,'#ff1500']],
  showscale:true,colorbar:{x:px(432),xanchor:'left',y:py(213),yanchor:'top',lenmode:'pixels',len:51,thicknessmode:'pixels',thickness:10.7,outlinewidth:0,xpad:0,ypad:0,tickvals:[1,2,3,4],ticks:'',tickfont:{family:F,size:5.5,color:'#333'}}}});
const bTitleX=[272.7,314,357.7,401],bTitleC=['#ff2a2a','#6a30f0','#33ee33','#3a6cf0'];
bubbleGroups.forEach((g,i)=>note(bTitleX[i],189,g,{size:12.4,color:bTitleC[i]}));
note(438.3,199.3,'p-value',{size:5.9}); note(438.3,206.7,'(-log10)',{size:5.9}); note(439,279.3,'overlap',{size:5.9});
note(6.5,174,'B',{size:14,color:'#000'});
axes(6,428,452,286,328,{range:[428,452]},{range:[328,286]});
layout.xaxis6.visible=false;layout.yaxis6.visible=false;
data.push({type:'scatter',mode:'markers+text',xaxis:'x6',yaxis:'y6',x:[437.7,437.7,437.7,437.7],y:[291.7,302,312,322.7],text:['1','2','3','4'],textposition:'middle right',hoverinfo:'skip',
  textfont:{family:F,size:5.5,color:'#333'},marker:{size:[4,5.5,6.5,7.5],color:'#000'}});

// ---------- C ----------
note(527.5,174,'C',{size:14,color:'#000'});
axes(7,500,791,160,360,Object.assign({range:[0,873]},hidden),Object.assign({range:[600,0]},hidden));
const umapColors=['#f7708f','#c9a32a','#66ee22','#4fe89f','#5fe6f0','#a99af0'];
const umapFillC=['rgba(247,112,143,0.7)','rgba(201,163,42,0.72)','rgba(102,238,34,0.65)','rgba(79,232,159,0.68)','rgba(95,230,240,0.65)','rgba(169,154,240,0.55)'];
umapNames.forEach((n,i)=>{
  const o=umapOutline[i].concat([umapOutline[i][0]]);
  data.push({type:'scatter',mode:'lines',xaxis:'x7',yaxis:'y7',x:xs(o),y:ys(o),fill:'toself',fillcolor:umapFillC[i],line:{color:'rgba(255,255,255,0)',width:0},hoverinfo:'skip'});
  data.push({type:'scatter',mode:'markers',xaxis:'x7',yaxis:'y7',x:xs(umapCells[i]),y:ys(umapCells[i]),marker:{size:3,color:umapColors[i]},hoverinfo:'skip'});
});
data.push({type:'scatter',mode:'markers',xaxis:'x7',yaxis:'y7',x:xs(umapSpecks),y:ys(umapSpecks),marker:{size:2.5,color:'rgba(255,255,255,0.7)'},hoverinfo:'skip'});
[['Ly6C- Monocytes',626.7,174.3,'#55dbe8'],['CD206+',696,186.7,'#5a50f0'],['TAM',696,196.7,'#5a50f0'],['Vegfa+',571,249.3,'#5fdc1e'],['TAM',571,259.3,'#5fdc1e'],['Ly6C+',712.3,256,'#c81a60'],['Mono/TAM',712.3,266.7,'#c81a60'],['Vcam1+',680.3,292.3,'#28b88a'],['TAM',680.3,303.3,'#28b88a'],['Top2a+',582.3,318,'#d87a28'],['TAM',582.3,328.7,'#d87a28']].forEach(t=>note(t[1],t[2],t[0],{size:8.8,color:t[3]}));
[['5',405,105],['6',515,157],['1',459,260],['3',332,283],['4',427,375],['2',377,491]].forEach(t=>note(500+t[1]/3,160+t[2]/3,t[0],{size:9,color:'#000'}));

// ---------- D ----------
const purpleYellow=[[0,'#e040ff'],[0.03,'#c030ff'],[0.1,'#8000dc'],[0.17,'#5a0098'],[0.25,'#2c0a44'],[0.33,'#000000'],[0.5,'#465000'],[0.67,'#7f9000'],[0.9,'#c5e000'],[1,'#e8ff00']];
note(6.5,366,'D',{size:14,color:'#000'});
axes(8,45.7,161.3,376,586,{type:'category',side:'top',ticks:'',tickfont:boldTick(7.5)},{type:'category',autorange:'reversed',ticks:'',ticklabelstandoff:1,tickfont:italTick(7.2)});
data.push({type:'heatmap',xaxis:'x8',yaxis:'y8',x:heatDCols,y:heatDRows,z:heatD,zmin:-1,zmax:2,colorscale:purpleYellow,hoverinfo:'skip',
  colorbar:{x:px(172),xanchor:'left',y:py(546.7),yanchor:'top',lenmode:'pixels',len:39.3,thicknessmode:'pixels',thickness:10.3,xpad:0,ypad:0,outlinewidth:1,outlinecolor:'#a89a70',tickvals:[-1,0,1,2],ticktext:['-1','0','1','2'],ticks:'',ticklabeloverflow:'allow',tickfont:{family:F,size:8,color:'#222'}}});

// ---------- E ----------
note(232,367,'E',{size:14,color:'#000'});
const trajColors=['#f56a8e','#c9a012','#44ee11','#55e3ee','#a595ee','#44ee88'];
const cols=[[253.3,339,-7.63,10.94],[341.7,426.7,-7.65,11.2],[429.3,515,-7.8,11]];
const rows=[[381.7,458,8.55,-3.86],[469.3,549.3,8.97,-3.9]];
const trajLabelX=[[313,395,483],[306,397,486.7]],trajLabelY=[401.7,497.7];
trajNames.forEach((n,i)=>{
  const r=Math.floor(i/3),c=i%3,id=9+i,R=rows[r],C=cols[c];
  axes(id,C[0],C[1],R[0],R[1],
    {range:[C[2],C[3]],tickvals:[-5,0,5,10],ticktext:['−5','0','5','10'],ticks:r==1?'outside':'',ticklen:2,tickcolor:'#666',showticklabels:r==1,showline:r==1,linecolor:'#777',linewidth:1,tickfont:{family:F,size:7,color:'#555'}},
    {range:[R[3],R[2]],tickvals:[-3,0,3,6],ticktext:['−3','0','3','6'],ticks:c==0?'outside':'',ticklen:2,tickcolor:'#666',showticklabels:c==0,showline:c==0,linecolor:'#777',linewidth:1,tickfont:{family:F,size:7,color:'#555'}});
  data.push({type:'scatter',mode:'lines',xaxis:'x'+id,yaxis:'y'+id,x:xs(trajTracks[i]),y:ys(trajTracks[i]),line:{color:trajColors[i],width:3.5},hoverinfo:'skip'});
  data.push({type:'scatter',mode:'markers',xaxis:'x'+id,yaxis:'y'+id,x:xs(trajBlobs[i]),y:ys(trajBlobs[i]),marker:{size:7.5,color:trajColors[i]},hoverinfo:'skip'});
  data.push({type:'scatter',mode:'markers',xaxis:'x'+id,yaxis:'y'+id,x:xs(trajCells[i]),y:ys(trajCells[i]),marker:{size:3.6,color:trajColors[i]},hoverinfo:'skip'});
  const T=r==0?trajTreeTop:trajTreeBottom;
  data.push({type:'scatter',mode:'lines',xaxis:'x'+id,yaxis:'y'+id,x:xs(T),y:ys(T),line:{color:'#111',width:1.2},hoverinfo:'skip'});
  data.push({type:'scatter',mode:'markers',xaxis:'x'+id,yaxis:'y'+id,x:[T[3][0]],y:[T[3][1]],marker:{size:4.5,color:'#111',symbol:'square'},hoverinfo:'skip'});
  note(trajLabelX[r][c],trajLabelY[r],n,{size:9.4});
});
note(389,571.7,'Component 1',{size:9.6});
note(234,470,'Component 2',{size:9.6,angle:-90});

// ---------- F ----------
const blueRed=[[0,'#00009a'],[0.125,'#0000ff'],[0.25,'#6a6aff'],[0.5,'#ffffff'],[0.625,'#eeb0d0'],[0.75,'#c8457d'],[0.875,'#b81030'],[1,'#990000']];
note(563,366,'F',{size:14,color:'#000'});
note(692.3,372.7,'Top2a+ TAM',{size:12.4});
axes(15,652.7,736.7,384,557.3,{type:'category',ticks:'',tickangle:-45,tickfont:boldTick(8)},{type:'category',side:'right',autorange:'reversed',ticks:'',ticklabelstandoff:3,tickfont:italTick(7.9)});
data.push({type:'heatmap',xaxis:'x15',yaxis:'y15',x:heatFCols,y:heatFRows,z:heatF,zmin:-2,zmax:2,colorscale:blueRed,showscale:false,hoverinfo:'skip'});
[[646.7,387.7,471.7],[646.7,477.3,498.3],[646.7,504.3,555]].forEach(b=>seg(b[0],b[1],b[0],b[2],'#111',1.4));
[['Antigen',637.7,412],['processing and',637.7,422.7],['presentation',637.7,434],['Response to',640.7,481],['type II IFN',640.7,492.7],['Cell division',640.7,527.7]].forEach(t=>note(t[1],t[2],t[0],{size:9.4,anchor:'right'}));

// ---------- G ----------
note(12,617,'G',{size:14,color:'#000',});
axes(16,152.7,313.3,666.7,829,
 {range:[0,10],tick0:0,dtick:2,showline:true,linecolor:'#000',linewidth:1.5,ticks:'outside',ticklen:4,tickwidth:1.2,tickcolor:'#000',tickfont:boldTick(7.4),minor:{dtick:1,ticks:'outside',ticklen:2.5,tickcolor:'#000',tickwidth:1}},
 {type:'category',range:[5.45,-0.556],showline:true,linecolor:'#000',linewidth:1.5,ticks:'outside',ticklen:4,tickwidth:1.2,tickcolor:'#000',tickfont:boldTick(9.8)});
const barColors=['#f76d9f','#b5dd00','#33ee11','#33e5a5','#66b3ff','#7722ee'];
[barLy6cPos,barTop2a,barVegfa,barVcam1,barLy6cNeg,barCd206].forEach((v,i)=>{
  data.push({type:'bar',orientation:'h',xaxis:'x16',yaxis:'y16',x:v,y:barCategories,name:barNames[i],marker:{color:barColors[i],line:{width:0}},hoverinfo:'skip'});
  const y=656.7+i*11.6;
  shapes.push({type:'rect',xref:'paper',yref:'paper',x0:px(245.7),x1:px(265),y0:py(y-1.6),y1:py(y+1.6),fillcolor:barColors[i],line:{width:0}});
  note(275,y,barNames[i],{size:9.6,anchor:'left'});
});
layout.barmode='group';layout.bargap=0.12;layout.bargroupgap=0.3;
note(236,853,'-log10(p-value)',{size:10.5});

// ---------- H ----------
note(389,617,'H',{size:14,color:'#000'});
axes(17,370,530,595,720,Object.assign({range:[0,480]},hidden),Object.assign({range:[375,0]},hidden));
[[dcCells2,'#5cc4f4'],[dcCells1,'#b285f0'],[dcCellsM,'#ea66ee']].forEach(d=>data.push({type:'scatter',mode:'markers',xaxis:'x17',yaxis:'y17',x:xs(d[0]),y:ys(d[0]),marker:{size:3.8,color:d[1]},hoverinfo:'skip',cliponaxis:false}));
note(445,625.7,'cDC2',{size:9}); note(439,666.7,'cDC1',{size:9}); note(433,702,'mregDC',{size:9});

// ---------- I ----------
note(392,757,'I',{size:14,color:'#000'});
axes(18,433.3,490.7,784,937.3,{type:'category',side:'top',ticks:'',tickangle:-45,tickfont:boldTick(9.8)},{type:'category',autorange:'reversed',ticks:'',ticklabelstandoff:1,tickfont:italTick(7.4)});
data.push({type:'heatmap',xaxis:'x18',yaxis:'y18',x:heatICols,y:heatIRows,z:heatI,zmin:-1,zmax:1.2,colorscale:[[0,'#e040ff'],[0.068,'#a810f0'],[0.16,'#7a00c8'],[0.295,'#3a0060'],[0.4545,'#000000'],[0.6,'#3c4400'],[0.75,'#7f9000'],[0.84,'#a8bc00'],[0.91,'#c8e000'],[1,'#e8ff00']],hoverinfo:'skip',
  colorbar:{x:px(499),xanchor:'left',y:py(879.3),yanchor:'top',lenmode:'pixels',len:58,thicknessmode:'pixels',thickness:12.7,xpad:0,ypad:0,outlinewidth:1,outlinecolor:'#a89a70',tickvals:[-1,-0.5,0,0.5,1],ticktext:['-1.0','-0.5','0','0.5','1.0'],ticks:'',ticklabeloverflow:'allow',tickfont:{family:F,size:8,color:'#222'}}});

// ---------- J ----------
note(560,618,'J',{size:14,color:'#000'});
note(705.7,621.7,'cDC1',{size:12.5});
axes(19,679.3,733.3,631.7,718.3,{type:'category',ticks:'outside',ticklen:3,tickcolor:'#111',tickangle:-45,tickfont:boldTick(8)},{type:'category',side:'right',autorange:'reversed',ticks:'',ticklabelstandoff:2,tickfont:italTick(7.9)});
data.push({type:'heatmap',xaxis:'x19',yaxis:'y19',x:heatJCols,y:heatJRows,z:heatJ,zmin:-2,zmax:2,colorscale:blueRed,showscale:false,hoverinfo:'skip'});
[[630.7,664.3],[671,692.7],[698.3,720.7]].forEach(b=>seg(674.3,b[0],674.3,b[1],'#111',1.4));
[['Response to type I IFN',647.7],['Negative regulation of',675],['type II IFN signaling',686],['Cell division',710.7]].forEach(t=>note(668.3,t[1],t[0],{size:9.3,anchor:'right'}));

// ---------- K ----------
note(562,777,'K',{size:14,color:'#000'});
note(707.7,784,'cDC2',{size:12.5});
axes(20,683.3,737.7,794,906,{type:'category',ticks:'outside',ticklen:3,tickcolor:'#111',tickangle:-45,tickfont:boldTick(8)},{type:'category',side:'right',autorange:'reversed',ticks:'',ticklabelstandoff:3,tickfont:italTick(7.9)});
data.push({type:'heatmap',xaxis:'x20',yaxis:'y20',x:heatJCols,y:heatKRows,z:heatK,zmin:-2,zmax:2,colorscale:blueRed,showscale:false,hoverinfo:'skip'});
[[794,804.3],[809,829.3],[834,844],[847.3,891.7],[896,906]].forEach(b=>seg(677.3,b[0],677.3,b[1],'#111',1.4));
[['DC differentiation',799.3],['Response to type II IFN',819],['Antigen processing',835.3],['and presentation',846.3],['Cell division',870],['Negative regulation of',894],['type I IFN signaling',905]].forEach(t=>note(671,t[1],t[0],{size:9.3,anchor:'right'}));

Object.assign(layout,{width:W,height:H,margin:{l:0,r:0,t:0,b:0,pad:0},paper_bgcolor:'#fff',plot_bgcolor:'rgba(0,0,0,0)',showlegend:false,font:{family:F},shapes,annotations});
Plotly.newPlot('g',data,layout,{staticPlot:true,displayModeBar:false});
</script></body></html>
